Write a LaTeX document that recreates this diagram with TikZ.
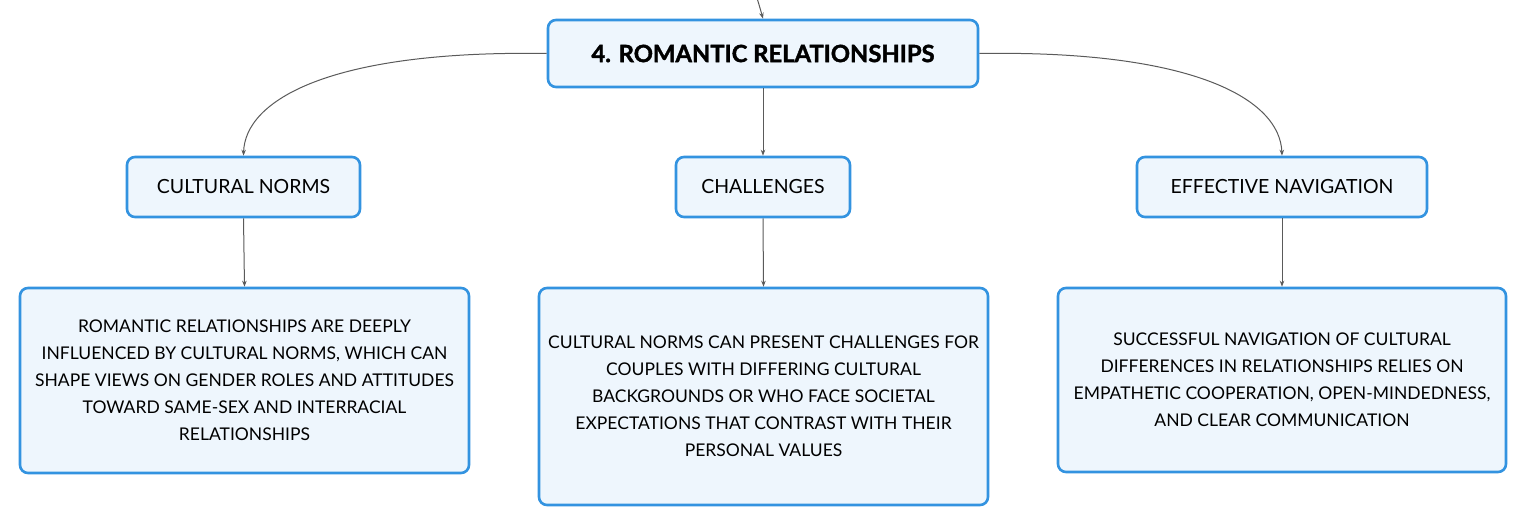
\documentclass[tikz,border=0pt]{standalone}
\usepackage{fontspec}
\setmainfont{Lato}
\newfontfamily\titlefont{Lato}[BoldFeatures={FakeBold=1.6}]
\usetikzlibrary{arrows.meta}
\definecolor{boxblue}{HTML}{3393E0}
\definecolor{boxfill}{HTML}{EEF6FD}
\definecolor{linegray}{HTML}{5A5A5A}
\tikzset{
  box/.style={draw=boxblue, fill=boxfill, line width=2.6pt, rounded corners=8pt, align=center, inner sep=0pt, text=black},
  rootbox/.style={box, minimum width=430pt, minimum height=67pt, font=\titlefont\fontsize{23.8}{28}\selectfont\bfseries},
  midbox/.style={box, minimum height=60pt, font=\fontsize{19.5}{23}\selectfont},
  leafbox/.style={box, font=\fontsize{17.5}{27}\selectfont},
  conn/.style={draw=linegray, line width=1pt, -{Stealth[length=6pt,width=4.5pt]}}
}
\begin{document}
\begin{tikzpicture}[x=1pt,y=-1pt]
\useasboundingbox (0,0) rectangle (1527,526);
\fill[white] (0,0) rectangle (1527,526);
\node[rootbox] (root) at (763,53.5) {4. ROMANTIC RELATIONSHIPS};
\node[midbox, minimum width=233pt] (cn) at (243.5,187) {CULTURAL NORMS};
\node[midbox, minimum width=174pt] (ch) at (763,187) {CHALLENGES};
\node[midbox, minimum width=290pt] (en) at (1282,187) {EFFECTIVE NAVIGATION};
\node[leafbox, minimum width=449pt, minimum height=185pt] (l1) at (244.5,380.5) {ROMANTIC RELATIONSHIPS ARE DEEPLY\\INFLUENCED BY CULTURAL NORMS, WHICH CAN\\SHAPE VIEWS ON GENDER ROLES AND ATTITUDES\\TOWARD SAME-SEX AND INTERRACIAL\\RELATIONSHIPS};
\node[leafbox, minimum width=449pt, minimum height=217pt] (l2) at (763.5,396.5) {CULTURAL NORMS CAN PRESENT CHALLENGES FOR\\COUPLES WITH DIFFERING CULTURAL\\BACKGROUNDS OR WHO FACE SOCIETAL\\EXPECTATIONS THAT CONTRAST WITH THEIR\\PERSONAL VALUES};
\node[leafbox, minimum width=448pt, minimum height=184pt] (l3) at (1282,380) {SUCCESSFUL NAVIGATION OF CULTURAL\\DIFFERENCES IN RELATIONSHIPS RELIES ON\\EMPATHETIC COOPERATION, OPEN-MINDEDNESS,\\AND CLEAR COMMUNICATION};
\coordinate (in) at (757,-2);
\draw[conn] (in) .. controls (760,8) .. (root.north);
\draw[conn] (root.west) .. controls (330,50) and (245,100) .. (cn.north);
\draw[conn] (root.east) .. controls (1196,50) and (1280,100) .. (en.north);
\draw[conn] (root.south) -- (ch.north);
\draw[conn] (cn.south) -- (l1.north);
\draw[conn] (ch.south) -- (l2.north);
\draw[conn] (en.south) -- (l3.north);
\end{tikzpicture}
\end{document}
